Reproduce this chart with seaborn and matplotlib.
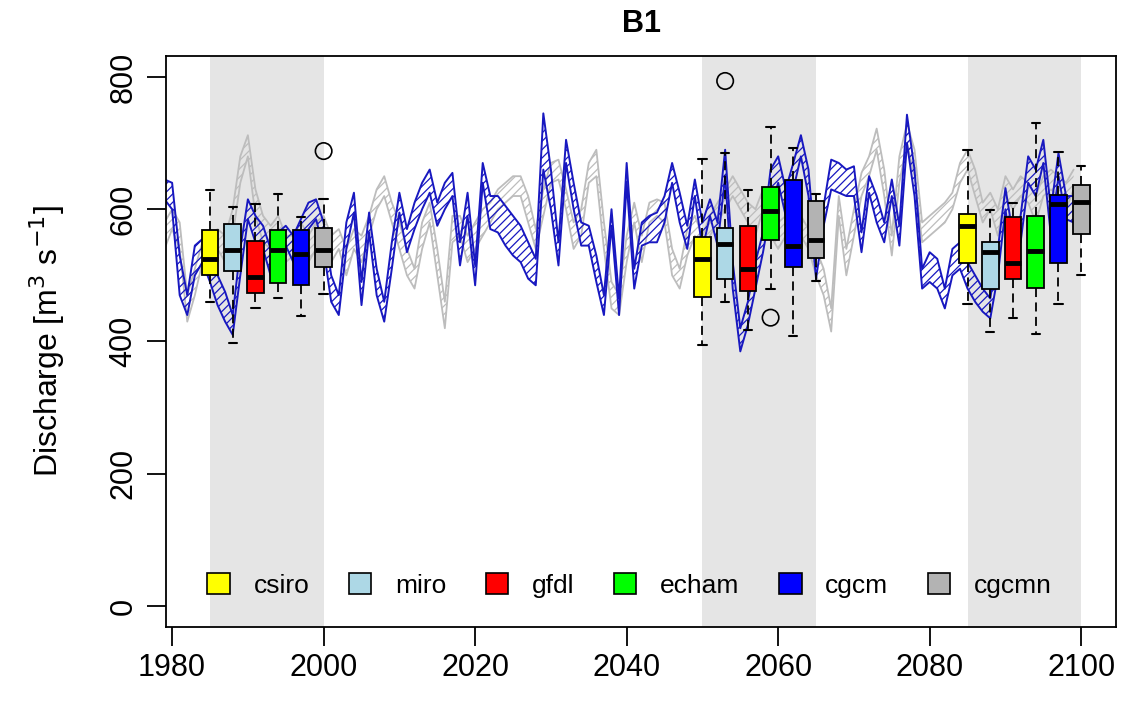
import numpy as np
import pandas as pd
import matplotlib
matplotlib.use("Agg")
import matplotlib.pyplot as plt
from matplotlib.patches import Patch
import seaborn as sns

# ---------------- data ----------------
years = list(range(1979, 2100))

blue_lo = [615, 600, 470, 440, 500, 520, 490, 455, 430, 410,
           500, 585, 550, 540, 500, 530, 545, 520, 555, 570,
           585, 540, 460, 440, 540, 595, 455, 565, 470, 430,
           510, 595, 535, 570, 600, 625, 575, 600, 620, 515,
           590, 485, 640, 570, 565, 545, 530, 520, 495, 485,
           660, 600, 515, 670, 600, 545, 545, 490, 440, 575,
           440, 640, 480, 545, 550, 550, 580, 640, 580, 540,
           620, 540, 590, 545, 650, 480, 385, 425, 480, 535,
           600, 640, 590, 630, 680, 620, 495, 575, 630, 625,
           620, 620, 535, 625, 580, 550, 620, 545, 700, 620,
           480, 490, 480, 450, 500, 510, 480, 460, 445, 435,
           500, 600, 520, 550, 640, 620, 670, 560, 650, 585,
           580]
blue_hi = [645, 640, 530, 470, 545, 555, 525, 500, 475, 440,
           540, 615, 590, 575, 540, 565, 575, 560, 585, 610,
           615, 580, 500, 470, 580, 625, 490, 595, 510, 460,
           550, 625, 570, 610, 640, 660, 610, 640, 655, 550,
           625, 515, 670, 620, 620, 605, 590, 575, 550, 525,
           745, 660, 550, 705, 640, 580, 575, 530, 470, 600,
           465, 670, 510, 580, 590, 595, 620, 670, 625, 575,
           645, 580, 615, 580, 690, 520, 420, 460, 520, 565,
           660, 680, 630, 670, 712, 660, 525, 605, 675, 670,
           660, 665, 565, 650, 620, 580, 645, 575, 743, 660,
           510, 535, 525, 480, 540, 550, 520, 500, 480, 465,
           540, 632, 560, 590, 680, 660, 705, 600, 685, 620,
           620]

grey_lo = [540, 570, 540, 430, 470, 520, 530, 540, 520, 560,
           640, 680, 590, 550, 540, 560, 520, 530, 550, 520,
           540, 560, 520, 540, 500, 540, 520, 560, 600, 620,
           580, 540, 500, 480, 540, 580, 500, 420, 550, 560,
           520, 540, 560, 580, 600, 610, 620, 620, 580, 540,
           590, 640, 645, 600, 540, 560, 640, 650, 540, 450,
           440, 520, 580, 520, 580, 590, 580, 500, 480, 530,
           560, 520, 560, 580, 600, 620, 600, 580, 560, 600,
           560, 540, 560, 580, 560, 540, 500, 470, 415, 590,
           500, 560, 620, 650, 690, 620, 530, 640, 700, 650,
           550, 560, 570, 580, 600, 640, 660, 620, 580, 600,
           560, 620, 600, 620, 610, 580, 620, 630, 620, 600,
           630]
grey_hi = [580, 600, 580, 470, 510, 550, 560, 570, 560, 600,
           680, 712, 630, 590, 575, 590, 560, 560, 580, 560,
           580, 590, 560, 570, 540, 570, 560, 590, 630, 650,
           610, 580, 540, 510, 580, 610, 540, 460, 590, 590,
           560, 580, 600, 610, 630, 640, 650, 650, 620, 570,
           630, 670, 675, 630, 580, 600, 670, 690, 580, 490,
           470, 560, 610, 560, 610, 615, 610, 540, 510, 570,
           590, 560, 590, 610, 630, 650, 630, 610, 600, 630,
           600, 580, 590, 610, 590, 570, 540, 510, 450, 620,
           540, 600, 655, 680, 722, 660, 560, 680, 730, 690,
           580, 590, 600, 610, 625, 670, 690, 660, 610, 625,
           600, 650, 630, 650, 640, 620, 650, 660, 650, 640,
           660]

models = ["csiro", "miro", "gfdl", "echam", "cgcm", "cgcmn"]
model_colors = ["#FFFF00", "#ADD8E6", "#FF0000", "#00FF00", "#0000FF", "#B3B3B3"]
box_positions = [1985, 1988, 1991, 1994, 1997, 2000,
                 2050, 2053, 2056, 2059, 2062, 2065,
                 2085, 2088, 2091, 2094, 2097, 2100]
box_models = models * 3
box_whisk_lo = [459, 398, 450, 466, 438, 472,
                394, 460, 417, 480, 409, 492,
                456, 414, 435, 411, 456, 500]
box_q1 = [500, 507, 474, 489, 486, 512,
          468, 495, 477, 554, 513, 527,
          519, 480, 494, 481, 519, 562]
box_median = [524, 539, 498, 539, 533, 539,
              524, 548, 510, 598, 545, 554,
              574, 536, 519, 537, 608, 611]
box_q3 = [569, 578, 552, 568, 568, 571,
          558, 571, 575, 634, 644, 613,
          593, 551, 589, 590, 621, 636]
box_whisk_hi = [629, 604, 608, 623, 589, 616,
                676, 685, 629, 724, 692, 623,
                690, 599, 610, 730, 687, 666]
outlier_x = [2000, 2053, 2059]
outlier_y = [688, 794, 436]

shade_periods = [(1985, 2000), (2050, 2065), (2085, 2100)]

x_ticks = [1980, 2000, 2020, 2040, 2060, 2080, 2100]
y_ticks = [0, 200, 400, 600, 800]

# ---------------- style ----------------
sns.set_theme(style="ticks")
plt.rcParams["font.family"] = ["Liberation Sans", "DejaVu Sans"]
plt.rcParams["hatch.linewidth"] = 0.9
for k in ["text.color", "axes.labelcolor", "xtick.color", "ytick.color"]:
    plt.rcParams[k] = "black"

fig = plt.figure(figsize=(11.22, 7.07), dpi=100)
ax = fig.add_axes([0.148, 0.113, 0.8467, 0.808])

# shaded periods
for a, b in shade_periods:
    ax.axvspan(a, b, color="#E5E5E5", lw=0, zorder=0)

# bands
band_df = pd.DataFrame({"year": years, "blue_lo": blue_lo, "blue_hi": blue_hi,
                        "grey_lo": grey_lo, "grey_hi": grey_hi})
grey_c = "#BDBDBD"
blue_c = "#1818C0"
ax.fill_between(band_df["year"], band_df["grey_lo"], band_df["grey_hi"],
                facecolor="none", edgecolor=grey_c, hatch="////", lw=0, zorder=1)
for col in ["grey_lo", "grey_hi"]:
    sns.lineplot(data=band_df, x="year", y=col, color=grey_c, lw=1.3, ax=ax, zorder=1)
ax.fill_between(band_df["year"], band_df["blue_lo"], band_df["blue_hi"],
                facecolor="none", edgecolor=blue_c, hatch="////", lw=0, zorder=1)
for col in ["blue_lo", "blue_hi"]:
    sns.lineplot(data=band_df, x="year", y=col, color=blue_c, lw=1.4, ax=ax, zorder=1)

# boxplots (5-number summaries -> quartiles exactly with whis=(0,100))
rows = []
for i, pos in enumerate(box_positions):
    for v in (box_whisk_lo[i], box_q1[i], box_median[i], box_q3[i], box_whisk_hi[i]):
        rows.append({"pos": pos, "model": box_models[i], "value": v})
box_df = pd.DataFrame(rows)
sns.boxplot(data=box_df, x="pos", y="value", hue="model", hue_order=models,
            palette=dict(zip(models, model_colors)), native_scale=True, dodge=False,
            width=0.73, whis=(0, 100), linecolor="black", linewidth=1.3,
            saturation=1, legend=False, ax=ax, zorder=3,
            whiskerprops={"linestyle": (0, (5, 3)), "linewidth": 1.3},
            capprops={"linewidth": 1.5},
            medianprops={"linewidth": 3.5, "color": "black"})

out_df = pd.DataFrame({"x": outlier_x, "y": outlier_y})
sns.scatterplot(data=out_df, x="x", y="y", ax=ax, s=140, marker="o",
                facecolor="none", edgecolor="black", linewidth=1.2, zorder=4)

# axes formatting
ax.set_xlim(1979.2, 2104.6)
ax.set_ylim(-32, 832)
ax.set_xticks(x_ticks)
ax.set_yticks(y_ticks)
ax.set_xticklabels([str(t) for t in x_ticks], fontsize=22)
ax.set_yticklabels([str(t) for t in y_ticks], fontsize=22, rotation=90, va="center")
ax.tick_params(axis="both", length=14, width=1.3, color="black", pad=5)
ax.tick_params(axis="y", pad=6)
for s in ax.spines.values():
    s.set_visible(True)
    s.set_linewidth(1.3)
    s.set_color("black")
ax.set_xlabel("")
ax.set_ylabel("Discharge [m$^{3}$ s$^{-1}$]", fontsize=23, labelpad=30)
ax.set_title("B1", fontsize=22, fontweight="bold", pad=17)
ax.grid(False)

handles = [Patch(facecolor=c, edgecolor="black", lw=1.2) for c in model_colors]
ax.legend(handles, models, loc="lower center", bbox_to_anchor=(0.488, 0.01),
          ncol=6, frameon=False, fontsize=19, handlelength=0.85, handleheight=0.85,
          handletextpad=0.9, columnspacing=1.5)

fig.savefig("out.png", dpi=100)
